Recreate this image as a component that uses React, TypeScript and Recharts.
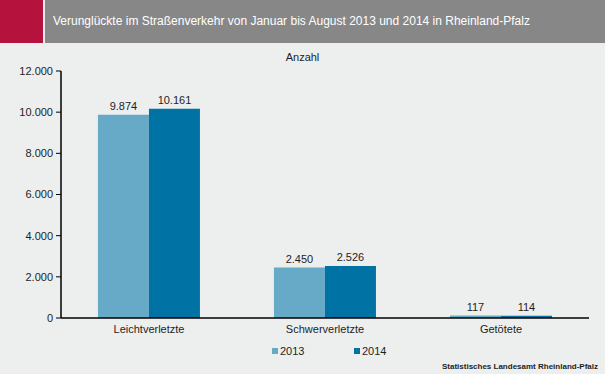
import { BarChart, Bar, XAxis, YAxis, LabelList } from "recharts";

const categories = ["Leichtverletzte", "Schwerverletzte", "Getötete"];
const values2013 = [9874, 2450, 117];
const values2014 = [10161, 2526, 114];
const yTicks = [0, 2000, 4000, 6000, 8000, 10000, 12000];
const boundaryTicks = [0, 1, 2, 3];

const C2013 = "#67aac8";
const C2014 = "#0072a3";
const FONT = "'Liberation Sans', Arial, sans-serif";
const TXT = "#1e1e1e";

const data = categories.map((name, i) => ({
  name,
  y2013: values2013[i],
  y2014: values2014[i],
}));

const fmt = (v: number) => v.toLocaleString("de-DE");

function Legend2() {
  const item = (color: string, label: string, left: number) => (
    <div style={{ position: "absolute", left, top: 345, display: "flex", alignItems: "center", fontSize: 11, color: TXT }}>
      <span style={{ width: 6, height: 6, background: color, marginRight: 2, display: "inline-block" }} />
      {label}
    </div>
  );
  return (
    <>
      {item(C2013, "2013", 272)}
      {item(C2014, "2014", 354)}
    </>
  );
}

export default function App() {
  return (
    <div
      style={{
        position: "fixed", left: 0, top: 0, width: 605, height: 374,
        background: "#edeeee", fontFamily: FONT, overflow: "hidden",
      }}
    >
      <div style={{ position: "absolute", left: 0, top: 0, width: 43, height: 43, background: "#b5123e" }} />
      <div
        style={{
          position: "absolute", left: 45, top: 0, width: 560, height: 43, background: "#878787",
          color: "#fff", fontSize: 12, lineHeight: "43px", paddingLeft: 8, boxSizing: "border-box",
        }}
      >
        Verunglückte im Straßenverkehr von Januar bis August 2013 und 2014 in Rheinland-Pfalz
      </div>
      <div style={{ position: "absolute", left: 0, width: 605, top: 51, textAlign: "center", fontSize: 11, color: TXT }}>
        Anzahl
      </div>
      <BarChart
        width={605}
        height={374}
        data={data}
        margin={{ top: 71, right: 16, left: 0, bottom: 0 }}
        barCategoryGap="21%"
        barGap={0}
        style={{ position: "absolute", left: 0, top: 0 }}
      >
        <XAxis
          xAxisId="b"
          type="number"
          domain={[0, 3]}
          ticks={boundaryTicks}
          height={1}
          tick={false}
          tickSize={5}
          axisLine={{ stroke: "#000", strokeWidth: 1.5 }}
          tickLine={{ stroke: "#000" }}
          allowDataOverflow
        />
        <XAxis
          xAxisId="cat"
          dataKey="name"
          height={55}
          tickLine={false}
          axisLine={false}
          tick={{ fontSize: 11, fill: TXT, fontFamily: FONT }}
          tickMargin={0}
        />
        <YAxis
          width={61}
          domain={[0, 12000]}
          ticks={yTicks}
          tickFormatter={fmt}
          axisLine={{ stroke: "#000", strokeWidth: 1.5 }}
          tickLine={{ stroke: "#000" }}
          tickSize={5}
          tickMargin={3}
          tick={{ fontSize: 11, fill: TXT, fontFamily: FONT }}
          interval={0}
        />
        <Bar xAxisId="cat" dataKey="y2013" fill={C2013} isAnimationActive={false}>
          <LabelList dataKey="y2013" position="top" offset={5} formatter={(v: any) => fmt(v as number)} style={{ fontSize: 11, fill: TXT, fontFamily: FONT }} />
        </Bar>
        <Bar xAxisId="cat" dataKey="y2014" fill={C2014} isAnimationActive={false}>
          <LabelList dataKey="y2014" position="top" offset={5} formatter={(v: any) => fmt(v as number)} style={{ fontSize: 11, fill: TXT, fontFamily: FONT }} />
        </Bar>
      </BarChart>
      <Legend2 />
      <div style={{ position: "absolute", right: 7, top: 362, fontSize: 8, color: TXT, fontWeight: "bold" }}>
        Statistisches Landesamt Rheinland-Pfalz
      </div>
    </div>
  );
}
